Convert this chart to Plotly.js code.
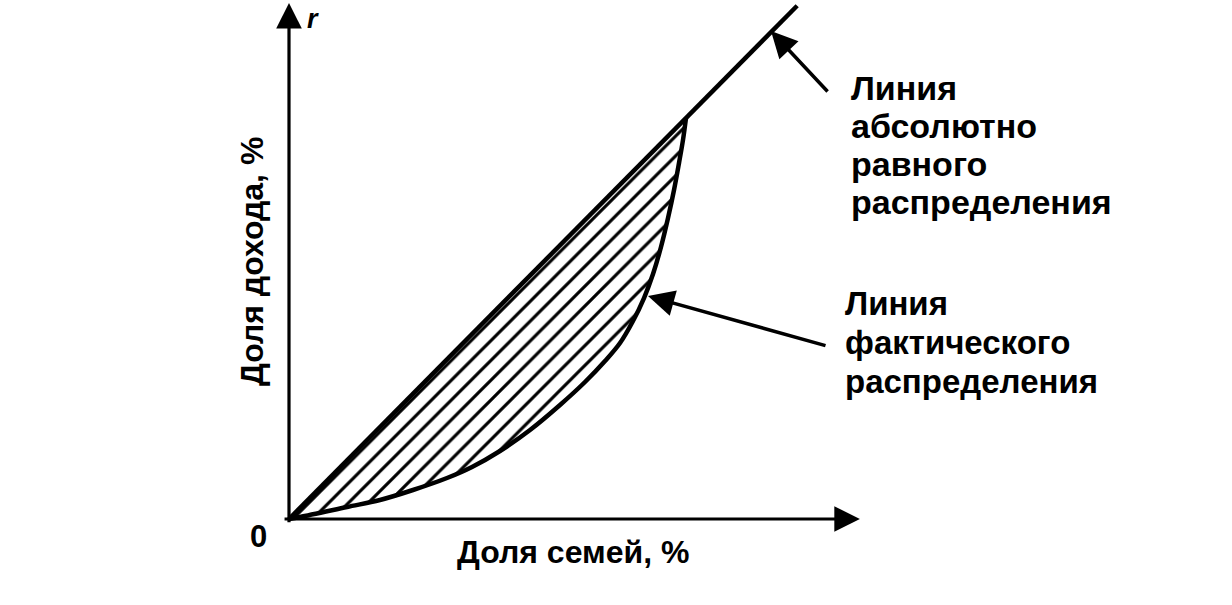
<!DOCTYPE html>
<html>
<head>
<meta charset="utf-8">
<script src="https://cdn.plot.ly/plotly-3.0.1.min.js"></script>
<style>html,body{margin:0;padding:0;background:#fff;}#chart{width:1232px;height:605px;}</style>
</head>
<body>
<div id="chart"></div>
<script>
// Доля семей (%) и доля дохода (%) — кривая Лоренца
const familyShare = [0, 2.77, 14.61, 22.92, 31.23, 39.80, 46.10, 53.15, 60.71, 68.26, 74.56, 79.60, 83.38, 86.65, 89.42, 91.69, 93.70, 95.47, 96.98, 98.24, 99.24, 100];
const incomeShare = [0, 0.50, 2.99, 4.74, 7.23, 10.22, 12.97, 16.96, 22.19, 28.43, 34.16, 39.40, 43.89, 49.38, 55.11, 61.10, 67.83, 75.06, 82.04, 88.78, 94.51, 100];
// Линия абсолютно равного распределения
const equalX = [0, 128];
const equalY = [0, 128];
// Axis extents
const xAxisEnd = 143.8;
const yAxisEnd = 128.7;
const xLabel = "Доля семей, %";
const yLabel = "Доля дохода, %";
const equalLabel = ["Линия", "абсолютно", "равного", "распределения"];
const actualLabel = ["Линия", "фактического", "распределения"];

const FONT = "Liberation Sans, Arial, Helvetica, sans-serif";
const pxX = 3.97, pxY = 4.01, ox = 289, oy = 519;
const dx = px => (px - ox) / pxX;
const dy = py => (oy - py) / pxY;

const traces = [
  {x: familyShare, y: incomeShare, mode: 'lines', fill: 'toself',
   fillcolor: 'white',
   fillpattern: {shape: '/', size: 14, solidity: 0.22, fgcolor: 'black', bgcolor: 'white'},
   line: {width: 0, color: 'black', shape: 'spline'}, hoverinfo: 'skip'},
  {x: familyShare, y: incomeShare, mode: 'lines', line: {width: 4.5, color: 'black', shape: 'spline'}, hoverinfo: 'skip'},
  {x: equalX, y: equalY, mode: 'lines', line: {width: 4.5, color: 'black'}, hoverinfo: 'skip'}
];

const ann = [];
// axes with arrows
ann.push({x: xAxisEnd, y: 0, ax: -1.5, ay: 0, axref: 'x', ayref: 'y', xref: 'x', yref: 'y',
  showarrow: true, arrowhead: 2, arrowsize: 1.6, arrowwidth: 3.2, arrowcolor: 'black', text: ''});
ann.push({x: 0, y: yAxisEnd, ax: 0, ay: -1.2, axref: 'x', ayref: 'y', xref: 'x', yref: 'y',
  showarrow: true, arrowhead: 2, arrowsize: 1.6, arrowwidth: 3.2, arrowcolor: 'black', text: ''});
// pointer arrows
ann.push({x: dx(771), y: dy(31), ax: dx(829), ay: dy(93), axref: 'x', ayref: 'y', xref: 'x', yref: 'y',
  showarrow: true, arrowhead: 2, arrowsize: 1.5, arrowwidth: 3.5, arrowcolor: 'black', text: ''});
ann.push({x: dx(648), y: dy(296), ax: dx(827), ay: dy(346), axref: 'x', ayref: 'y', xref: 'x', yref: 'y',
  showarrow: true, arrowhead: 2, arrowsize: 1.5, arrowwidth: 3.5, arrowcolor: 'black', text: ''});

function txt(t, px, py, size, opts) {
  return Object.assign({x: dx(px), y: dy(py), xref: 'x', yref: 'y', text: t, showarrow: false,
    font: {family: FONT, size: size, color: 'black'}, xanchor: 'left', yanchor: 'middle'}, opts || {});
}
equalLabel.forEach((t, i) => ann.push(txt('<b>' + t + '</b>', 849, 88 + i * 38, 34)));
actualLabel.forEach((t, i) => ann.push(txt('<b>' + t + '</b>', 843, 303 + i * 39, 33)));
ann.push(txt('<b>' + xLabel + '</b>', 573, 552, 32, {xanchor: 'center'}));
ann.push(txt('<b>' + yLabel + '</b>', 252, 262, 32, {xanchor: 'center', textangle: -90}));
ann.push(txt('<b>0</b>', 258, 536, 31, {xanchor: 'center'}));
ann.push(txt('<b><i>r</i></b>', 313, 19, 27, {xanchor: 'center'}));

const layout = {
  width: 1232, height: 605,
  margin: {l: 0, r: 0, t: 0, b: 0, pad: 0},
  paper_bgcolor: 'white', plot_bgcolor: 'white',
  showlegend: false, hovermode: false,
  xaxis: {range: [-ox / pxX, (1232 - ox) / pxX], visible: false, fixedrange: true},
  yaxis: {range: [-(605 - oy) / pxY, oy / pxY], visible: false, fixedrange: true},
  annotations: ann
};
Plotly.newPlot('chart', traces, layout, {staticPlot: true});
</script>
</body>
</html>
